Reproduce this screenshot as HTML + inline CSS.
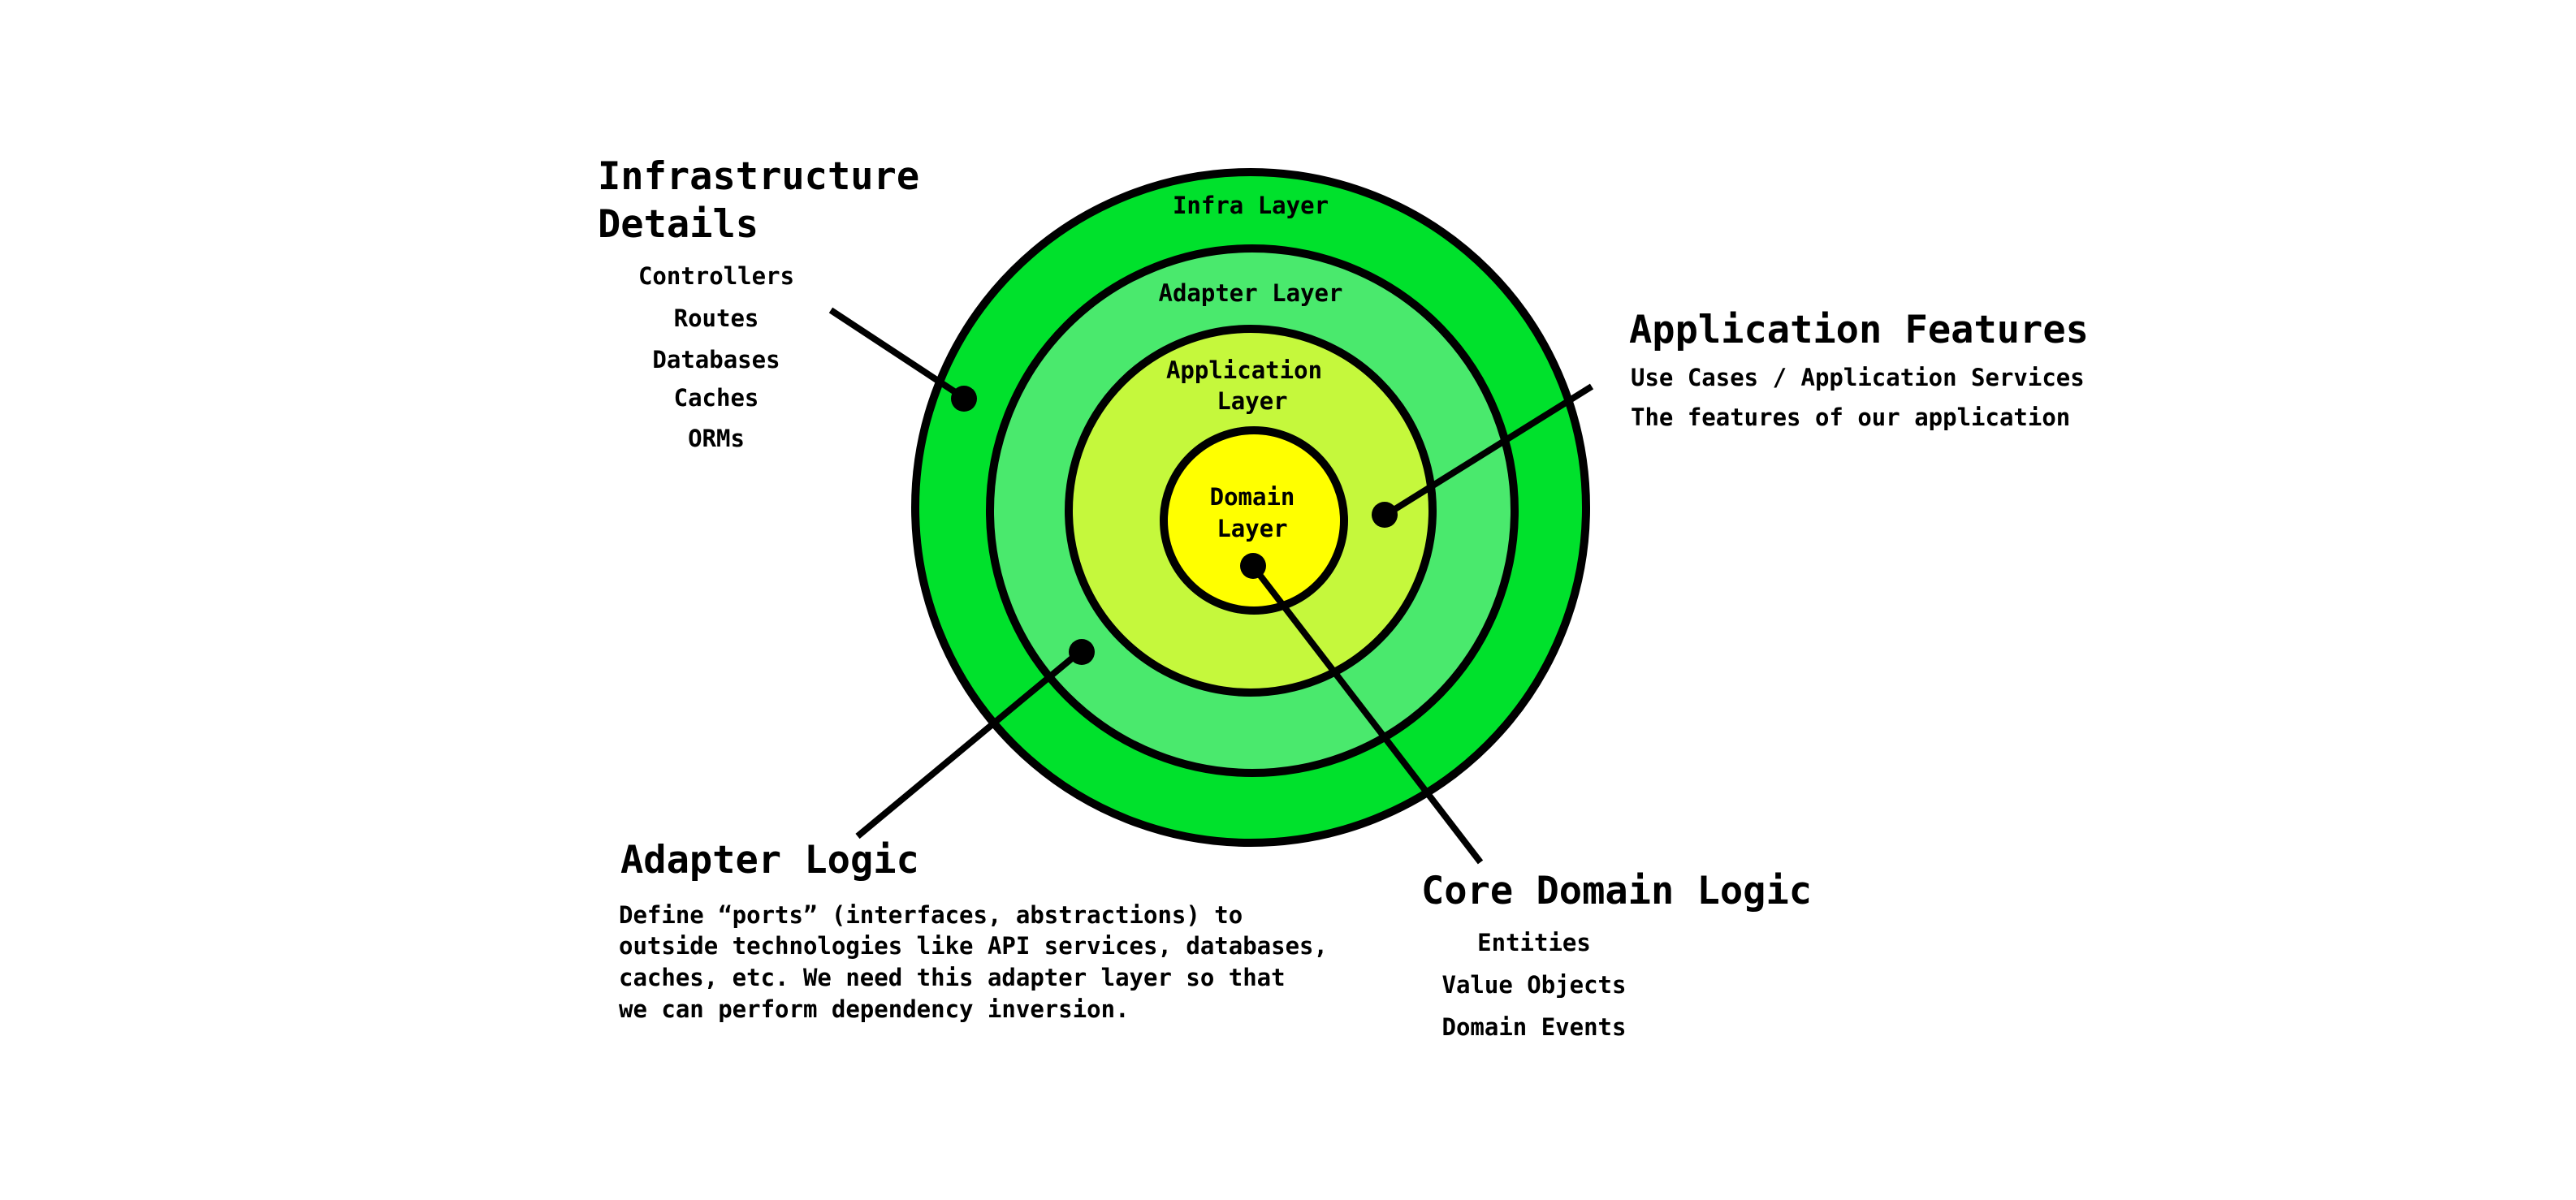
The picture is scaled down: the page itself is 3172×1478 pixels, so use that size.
<!DOCTYPE html>
<html>
<head>
<meta charset="utf-8">
<style>
html,body{margin:0;padding:0;background:#fff;}
svg{display:block;}
text{font-family:"DejaVu Sans Mono","Liberation Mono",monospace;font-weight:bold;fill:#000;}
</style>
</head>
<body>
<svg width="3172" height="1478" viewBox="0 0 3172 1478" xmlns="http://www.w3.org/2000/svg">
<rect width="3172" height="1478" fill="#fff"/>
<circle cx="1540" cy="625" r="413" fill="#00e12c" stroke="#000" stroke-width="10"/>
<circle cx="1542" cy="629" r="323" fill="#4ae96d" stroke="#000" stroke-width="10"/>
<circle cx="1540" cy="629" r="224" fill="#c5f83c" stroke="#000" stroke-width="10"/>
<circle cx="1544" cy="641" r="111" fill="#ffff00" stroke="#000" stroke-width="10"/>

<g stroke="#000" stroke-width="8" stroke-linecap="butt">
<line x1="1023" y1="382" x2="1187" y2="490"/>
<line x1="1705" y1="635" x2="1960" y2="476"/>
<line x1="1545" y1="700" x2="1823" y2="1062"/>
<line x1="1333" y1="800" x2="1056" y2="1030"/>
</g>
<g fill="#000">
<circle cx="1187" cy="491" r="16"/>
<circle cx="1705" cy="634" r="16"/>
<circle cx="1543" cy="697" r="16"/>
<circle cx="1332" cy="803" r="16"/>
</g>

<g font-size="29" text-anchor="middle">
<text x="1540" y="263">Infra Layer</text>
<text x="1540" y="371">Adapter Layer</text>
<text x="1532" y="466">Application</text>
<text x="1542" y="504">Layer</text>
<text x="1542" y="622">Domain</text>
<text x="1542" y="661">Layer</text>
</g>

<text x="736" y="233" font-size="47">Infrastructure</text>
<text x="736" y="292" font-size="47">Details</text>
<g font-size="29" text-anchor="middle">
<text x="882" y="350">Controllers</text>
<text x="882" y="402">Routes</text>
<text x="882" y="453">Databases</text>
<text x="882" y="500">Caches</text>
<text x="882" y="550">ORMs</text>
</g>

<text x="2006" y="422" font-size="47">Application Features</text>
<text x="2008" y="475" font-size="29">Use Cases / Application Services</text>
<text x="2008" y="524" font-size="29">The features of our application</text>

<text x="764" y="1075" font-size="47">Adapter Logic</text>
<g font-size="29">
<text x="762" y="1137">Define “ports” (interfaces, abstractions) to</text>
<text x="762" y="1175">outside technologies like API services, databases,</text>
<text x="762" y="1214">caches, etc. We need this adapter layer so that</text>
<text x="762" y="1253">we can perform dependency inversion.</text>
</g>

<text x="1750" y="1113" font-size="47">Core Domain Logic</text>
<g font-size="29" text-anchor="middle">
<text x="1889" y="1171">Entities</text>
<text x="1889" y="1223">Value Objects</text>
<text x="1889" y="1275">Domain Events</text>
</g>
</svg>
</body>
</html>
